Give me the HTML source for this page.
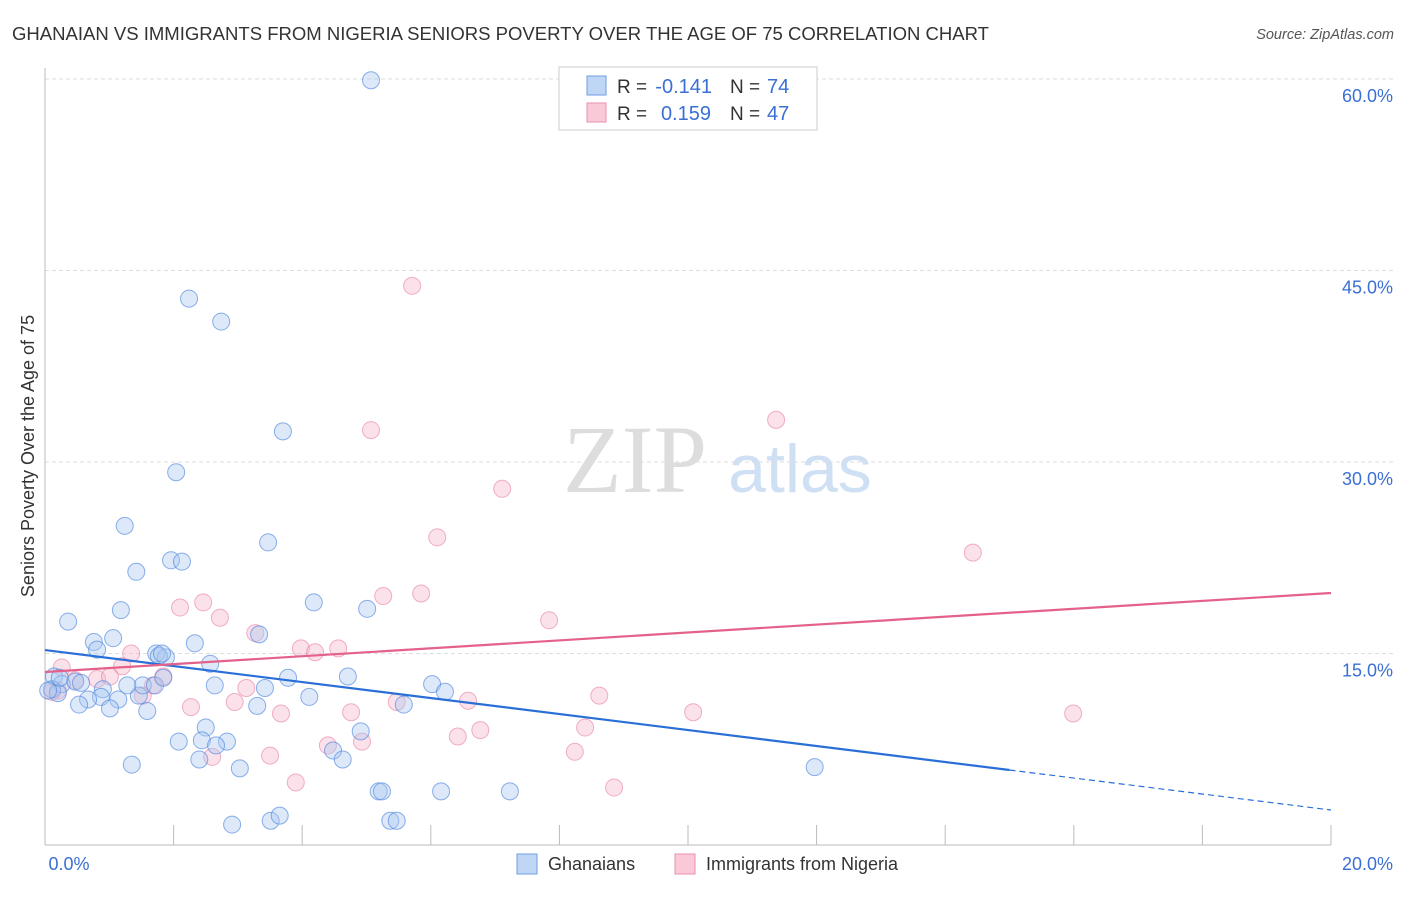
<!DOCTYPE html>
<html><head><meta charset="utf-8"><style>
body{margin:0;background:#fff;font-family:"Liberation Sans",sans-serif}
svg text{font-family:"Liberation Sans",sans-serif}
</style></head><body>
<svg id="c" width="1406" height="892">
<text x="12" y="40" font-size="18.4" fill="#333" textLength="977" lengthAdjust="spacingAndGlyphs">GHANAIAN VS IMMIGRANTS FROM NIGERIA SENIORS POVERTY OVER THE AGE OF 75 CORRELATION CHART</text>
<text x="1394" y="39" font-size="14.5" fill="#555" font-style="italic" text-anchor="end">Source: ZipAtlas.com</text>
<text x="635" y="492" font-size="96" fill="#ddd" text-anchor="middle" style="font-family:'Liberation Serif',serif">ZIP</text>
<text x="800" y="492" font-size="68" fill="#cfe0f5" text-anchor="middle">atlas</text>
<g id="grid"></g><g id="axes"></g><g id="marks"></g>
<text transform="translate(34,456) rotate(-90)" font-size="18" fill="#333" text-anchor="middle">Seniors Poverty Over the Age of 75</text>
<g>
<rect x="559" y="67" width="258" height="63" fill="#fff" stroke="#ccc"/>
<rect x="587" y="76" width="19" height="19" fill="#c0d6f5" stroke="#6e9ee6"/>
<rect x="587" y="103" width="19" height="19" fill="#f9c9d8" stroke="#eb8fae"/>
<text x="617" y="93" font-size="19" fill="#333">R =</text>
<text x="712" y="93" font-size="20" fill="#3b6fd4" text-anchor="end">-0.141</text>
<text x="730" y="93" font-size="19" fill="#333">N =</text>
<text x="767" y="93" font-size="20" fill="#3b6fd4">74</text>
<text x="617" y="120" font-size="19" fill="#333">R =</text>
<text x="711" y="120" font-size="20" fill="#3b6fd4" text-anchor="end">0.159</text>
<text x="730" y="120" font-size="19" fill="#333">N =</text>
<text x="767" y="120" font-size="20" fill="#3b6fd4">47</text>
</g>
<g>
<rect x="517" y="854" width="20" height="20" fill="#c0d6f5" stroke="#6e9ee6"/>
<text x="548" y="870" font-size="18" fill="#333">Ghanaians</text>
<rect x="675" y="854" width="20" height="20" fill="#f9c9d8" stroke="#eb8fae"/>
<text x="706" y="870" font-size="18" fill="#333">Immigrants from Nigeria</text>
</g>
</svg>
<script>
const yTicks=[15,30,45,60];
const yTickLabels=["15.0%","30.0%","45.0%","60.0%"];
const xTickLabels=["0.0%","20.0%"];
const blueX=[5.07,2.24,2.74,3.70,2.04,1.24,3.47,1.96,2.13,1.42,1.18,4.18,5.01,0.36,0.76,1.06,0.81,2.33,1.73,1.88,1.77,3.33,2.57,3.78,4.71,6.02,6.22,3.42,4.11,5.58,3.30,2.64,0.14,0.26,0.11,0.47,0.56,0.90,0.87,0.67,0.53,0.20,1.14,1.46,1.52,1.71,1.84,1.28,1.01,1.59,2.50,4.91,4.48,4.63,2.08,2.44,2.83,2.66,2.40,3.03,1.35,11.97,5.19,5.24,6.16,7.23,2.91,3.51,3.65,5.37,5.47,1.82,0.05,0.23];
const blueY=[59.9,42.8,41.0,32.4,29.2,25.0,23.7,22.3,22.2,21.4,18.4,19.0,18.5,17.5,15.9,16.2,15.3,15.8,15.0,14.7,14.8,16.5,14.2,13.1,13.2,12.6,12.0,12.3,11.6,11.0,10.9,12.5,13.2,12.6,12.2,12.8,12.7,12.2,11.6,11.4,11.0,11.9,11.4,11.7,12.5,12.5,13.1,12.5,10.7,10.5,9.2,8.9,7.4,6.7,8.1,8.2,8.1,7.8,6.7,6.0,6.3,6.1,4.2,4.2,4.2,4.2,1.6,1.9,2.3,1.9,1.9,15.0,12.1,13.1];
const pinkX=[5.71,5.07,11.37,7.11,6.10,14.43,5.26,5.85,7.84,2.10,2.46,2.72,3.27,3.98,4.20,4.56,1.34,1.20,0.26,1.84,0.20,0.47,0.81,1.01,1.68,1.52,0.11,2.27,2.95,3.13,3.67,4.76,5.47,6.58,6.77,6.42,4.40,4.93,3.50,2.60,3.90,8.24,8.40,8.62,8.85,10.08,15.99];
const pinkY=[43.8,32.5,33.3,27.9,24.1,22.9,19.5,19.7,17.6,18.6,19.0,17.8,16.6,15.4,15.1,15.4,15.0,14.0,13.9,13.2,12.1,12.9,13.0,13.2,12.5,11.7,12.0,10.8,11.2,12.3,10.3,10.4,11.2,11.3,9.0,8.5,7.8,8.1,7.0,6.9,4.9,7.3,9.2,11.7,4.5,10.4,10.3];
const blueTrend=[15.27,2.74]; const blueSolidEnd=15.0;
const pinkTrend=[13.55,19.74];
const X0=45,X1=1331,Y0=845,PPY=191.5/15;
const sx=v=>X0+(X1-X0)*v/20, sy=v=>Y0-v*PPY;
const NS="http://www.w3.org/2000/svg";
function mk(t,a,p){const e=document.createElementNS(NS,t);for(const k in a)e.setAttribute(k,a[k]);p.appendChild(e);return e;}
const grid=document.getElementById('grid'),axes=document.getElementById('axes'),marks=document.getElementById('marks');
yTicks.forEach((t,i)=>{
 const l=mk('line',{x1:X0,x2:1395,y1:sy(t),y2:sy(t),stroke:'#ddd','stroke-dasharray':'4,3'},grid);
 
 
 const tx=mk('text',{x:1393,y:sy(t)+23,'font-size':18,fill:'#3b6fd4','text-anchor':'end'},grid);
 tx.textContent=yTickLabels[i];
 
 
});
let a=mk('line',{x1:X0,x2:X0,y1:68,y2:Y0,stroke:'#bbb'},axes);


a=mk('line',{x1:X0,x2:X1,y1:Y0,y2:Y0,stroke:'#bbb'},axes);


for(let i=1;i<=10;i++){const t=mk('line',{x1:sx(i*2),x2:sx(i*2),y1:Y0-20,y2:Y0,stroke:'#bbb'},axes);
 
 }
[[0,X0+24,'middle'],[1,1393,'end']].forEach(([i,x,an])=>{const t=mk('text',{x:x,y:870,'font-size':18,fill:'#3b6fd4','text-anchor':an},axes);t.textContent=xTickLabels[i];
 
 });
function dots(X,Y,fill,stroke,name){X.forEach((x,i)=>{const c=mk('circle',{cx:sx(x),cy:sy(Y[i]),r:8.5,fill:fill,'fill-opacity':0.4,stroke:stroke,'stroke-opacity':0.65,'stroke-width':1},marks);
 
 });}
dots(pinkX,pinkY,'#f5b3c8','#e889a8','nigeria-point');
dots(blueX,blueY,'#a9c8f0','#4f86de','ghanaian-point');
const bAt=x=>blueTrend[0]+(blueTrend[1]-blueTrend[0])*x/20;
let l=mk('line',{x1:sx(0),y1:sy(bAt(0)),x2:sx(blueSolidEnd),y2:sy(bAt(blueSolidEnd)),stroke:'#2a6fd8','stroke-width':2.2},marks);


l=mk('line',{x1:sx(blueSolidEnd),y1:sy(bAt(blueSolidEnd)),x2:sx(20),y2:sy(bAt(20)),stroke:'#2a6fd8','stroke-width':1.2,'stroke-dasharray':'6,4'},marks);


l=mk('line',{x1:sx(0),y1:sy(pinkTrend[0]),x2:sx(20),y2:sy(pinkTrend[1]),stroke:'#e4618a','stroke-width':2.2},marks);


</script>
</body></html>
